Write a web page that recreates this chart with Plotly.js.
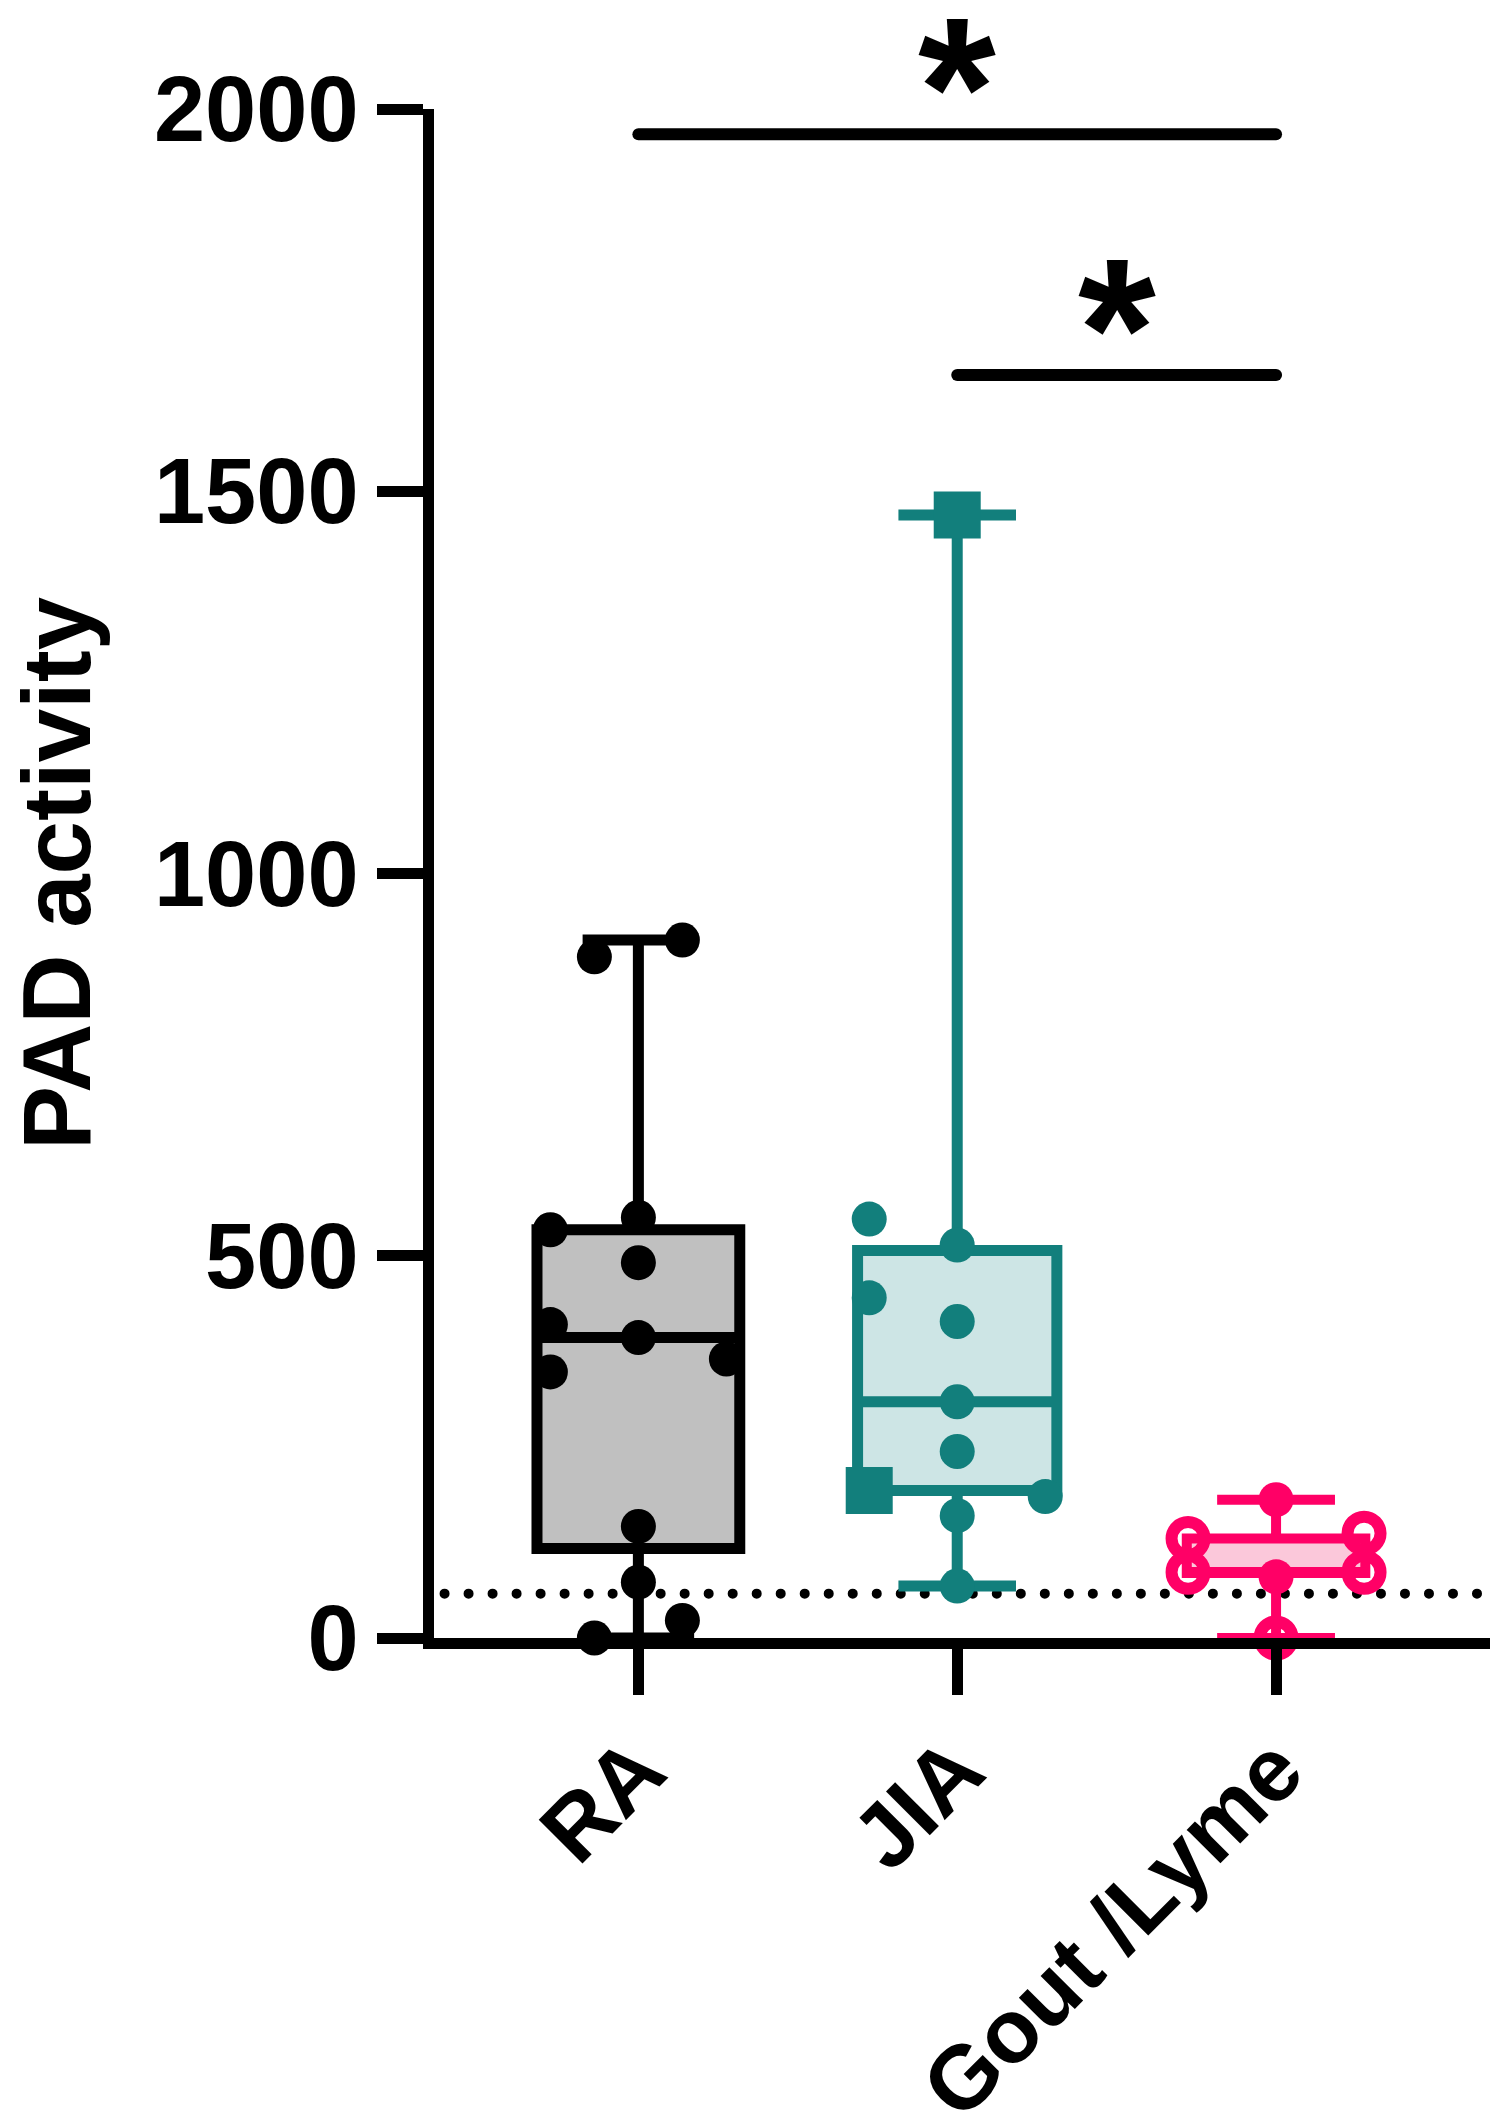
<!DOCTYPE html>
<html>
<head>
<meta charset="utf-8">
<script src="https://cdn.plot.ly/plotly-3.0.1.min.js"></script>
<style>
html, body { margin: 0; padding: 0; background: #fff; }
#plot { width: 1508px; height: 2124px; }
</style>
</head>
<body>
<div id="plot"></div>
<script>
// groups and their min / quartiles / max (whiskers run min to max)
let groups = ['RA', 'JIA', 'Gout /Lyme'];
let boxMin = [0, 68, 0];
let boxQ1 = [117, 193, 85];
let boxMedian = [393, 309, 85];
let boxQ3 = [534, 507, 130];
let boxMax = [913, 1469, 181];

// single samples, lane = scatter column the dot sits in (0 = centre)
let raValues = [913, 891, 550, 534, 491, 410, 393, 365, 348, 146, 73, 23, 0];
let raLane = [1, -1, 0, -2, 0, -2, 0, 2, -2, 0, 0, 1, -1];
let jiaValues = [548, 514, 445, 414, 309, 244, 185, 160, 68];
let jiaLane = [-2, 0, -2, 0, 0, 0, 2, 0, 0];
let jiaSquareValues = [1469, 193];
let jiaSquareLane = [0, -2];
let glOpenValues = [137, 130, 86, 86, 0];
let glOpenLane = [2, -2, -2, 2, 0];
let glFilledValues = [181, 80];
let glFilledLane = [0, 0];

// dotted line (detection limit)
let detectionLimit = 58;

// significance bars
let sigFrom = [0, 1];
let sigTo = [2, 2];
let sigHeight = [1967, 1652];
let sigText = ['*', '*'];

let black = '#000000';
let teal = '#127f7c';
let pink = '#ff0066';
let font = 'Liberation Sans, Arial, sans-serif';
let laneStep = 0.138;

function boxTrace(i, color, fill, width, whisker, lw) {
    return {
        type: 'box',
        x: [i],
        q1: [boxQ1[i]],
        median: [boxMedian[i]],
        q3: [boxQ3[i]],
        lowerfence: [boxMin[i]],
        upperfence: [boxMax[i]],
        boxpoints: false,
        width: width,
        whiskerwidth: whisker,
        fillcolor: fill,
        line: {color: color, width: lw},
        hoverinfo: 'skip'
    };
}

function dots(values, lanes, center, symbol, color, size, lw) {
    return {
        type: 'scatter',
        mode: 'markers',
        x: lanes.map(l => center + l * laneStep),
        y: values,
        cliponaxis: false,
        marker: {symbol: symbol, color: color, size: size, line: {color: color, width: lw}},
        hoverinfo: 'skip'
    };
}

let data = [
    boxTrace(0, black, '#c0c0c0', 0.636, 0.55, 11),
    boxTrace(1, teal, '#cde5e5', 0.625, 0.59, 11),
    boxTrace(2, pink, '#fbc8da', 0.56, 0.66, 10),
    dots(raValues, raLane, 0, 'circle', black, 35, 0),
    dots(jiaValues, jiaLane, 1, 'circle', teal, 35, 0),
    dots(jiaSquareValues, jiaSquareLane, 1, 'square', teal, 47, 0),
    dots(glFilledValues, glFilledLane, 2, 'circle', pink, 35, 0),
    dots(glOpenValues, glOpenLane, 2, 'circle-open', pink, 33, 12)
];

let shapes = [{
    type: 'line', layer: 'below',
    xref: 'paper', x0: 0.01, x1: 1,
    yref: 'y', y0: detectionLimit, y1: detectionLimit,
    line: {color: black, width: 10, dash: '0.01px,24px'}
}];
let annotations = [];
for (let k = 0; k < sigHeight.length; k++) {
    shapes.push({
        type: 'line',
        xref: 'x', x0: sigFrom[k], x1: sigTo[k],
        yref: 'y', y0: sigHeight[k], y1: sigHeight[k],
        line: {color: black, width: 12}
    });
    annotations.push({
        xref: 'x', yref: 'y',
        x: (sigFrom[k] + sigTo[k]) / 2, y: sigHeight[k],
        text: sigText[k], showarrow: false,
        yanchor: 'middle', yshift: 47,
        font: {family: font, size: 200, weight: 700, color: black}
    });
}

let layout = {
    width: 1508,
    height: 2124,
    margin: {l: 434, r: 18, t: 109, b: 486, pad: 0},
    paper_bgcolor: '#ffffff',
    plot_bgcolor: '#ffffff',
    showlegend: false,
    shapes: shapes,
    annotations: annotations,
    xaxis: {
        range: [-0.641, 2.671],
        tickvals: [0, 1, 2],
        ticktext: groups,
        tickangle: -45,
        ticks: 'outside', ticklen: 46, tickwidth: 11, tickcolor: black,
        ticklabelstandoff: -14,
        showline: true, linewidth: 11, linecolor: black,
        showgrid: false, zeroline: false, automargin: false,
        tickfont: {family: font, size: 90, weight: 700, color: black}
    },
    yaxis: {
        range: [0, 2000],
        tickvals: [0, 500, 1000, 1500, 2000],
        ticks: 'outside', ticklen: 46, tickwidth: 11, tickcolor: black,
        showline: true, linewidth: 11, linecolor: black,
        showgrid: false, zeroline: false, automargin: false,
        tickfont: {family: font, size: 92, weight: 700, color: black},
        title: {text: 'PAD activity', standoff: 36,
                font: {family: font, size: 96, weight: 700, color: black}}
    }
};

Plotly.newPlot('plot', data, layout, {displayModeBar: false, staticPlot: true}).then(function () {
    // round ends for the dotted line and the bars
    document.querySelectorAll('#plot .shapelayer path').forEach(function (p) {
        p.style.strokeLinecap = 'round';
    });
});
</script>
</body>
</html>
